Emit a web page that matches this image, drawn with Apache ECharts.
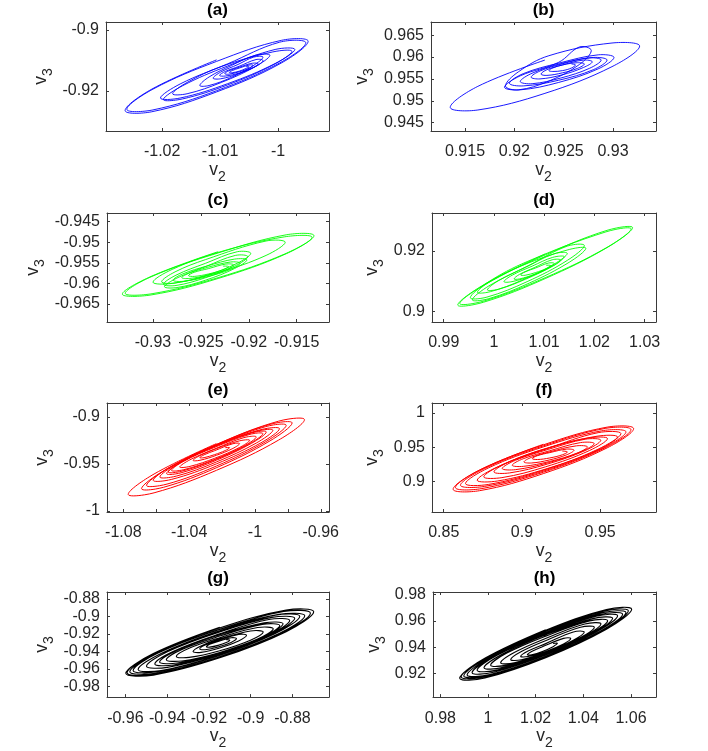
<!DOCTYPE html>
<html>
<head>
<meta charset="utf-8">
<script src="https://cdn.jsdelivr.net/npm/echarts@6/dist/echarts.min.js"></script>
<style>
html,body{margin:0;padding:0;background:#ffffff;}
#chart{width:708px;height:751px;}
</style>
</head>
<body>
<div id="chart"></div>
<script>
// ---------- DATA ----------
// Each trajectory is listed loop by loop, 8 points per loop.
const panelTitles = ['(a)', '(b)', '(c)', '(d)', '(e)', '(f)', '(g)', '(h)'];
const xName = 'v2';
const yName = 'v3';

// (a)
const aV2 = [
 -0.9948,-0.9994,-1.0106,-1.0218,-1.0264,-1.0218,-1.0106,-0.9994,
 -0.9952,-0.9997,-1.0106,-1.0216,-1.0261,-1.0216,-1.0106,-0.9997,
 -0.9971,-1.0005,-1.0087,-1.0169,-1.0203,-1.0169,-1.0087,-1.0005,
 -0.9976,-1.0009,-1.0087,-1.0165,-1.0198,-1.0165,-1.0087,-1.0009,
 -1.0014,-1.0039,-1.0098,-1.0157,-1.0182,-1.0157,-1.0098,-1.0039,
 -1.0026,-1.0042,-1.0080,-1.0119,-1.0135,-1.0119,-1.0080,-1.0042,
 -1.0026,-1.0038,-1.0069,-1.0099,-1.0112,-1.0099,-1.0069,-1.0038,
 -1.0034,-1.0044,-1.0067,-1.0091,-1.0101,-1.0091,-1.0067,-1.0044,
 -1.0043,-1.0050,-1.0067,-1.0085,-1.0092,-1.0085,-1.0067,-1.0050,
 -1.0050,-1.0055,-1.0067,-1.0079,-1.0084,-1.0079,-1.0067,-1.0055
];
const aV3 = [
 -0.9037,-0.9034,-0.9098,-0.9194,-0.9264,-0.9268,-0.9203,-0.9108,
 -0.9042,-0.9040,-0.9103,-0.9194,-0.9260,-0.9262,-0.9199,-0.9108,
 -0.9064,-0.9064,-0.9111,-0.9177,-0.9223,-0.9223,-0.9176,-0.9110,
 -0.9070,-0.9072,-0.9118,-0.9183,-0.9228,-0.9226,-0.9180,-0.9115,
 -0.9083,-0.9083,-0.9120,-0.9172,-0.9209,-0.9209,-0.9172,-0.9120,
 -0.9089,-0.9089,-0.9116,-0.9154,-0.9182,-0.9182,-0.9155,-0.9116,
 -0.9100,-0.9097,-0.9113,-0.9138,-0.9158,-0.9160,-0.9144,-0.9119,
 -0.9111,-0.9109,-0.9119,-0.9136,-0.9149,-0.9151,-0.9141,-0.9124,
 -0.9116,-0.9115,-0.9122,-0.9134,-0.9143,-0.9145,-0.9137,-0.9126,
 -0.9121,-0.9120,-0.9125,-0.9133,-0.9139,-0.9140,-0.9135,-0.9126
];
const aXTicks = [-1.02, -1.01, -1];
const aXLabels = [-1.02, -1.01, -1];
const aYTicks = [-0.92, -0.9];

// (b)
const bV2 = [
 0.9327,0.9299,0.9231,0.9163,0.9135,0.9163,0.9231,0.9299,
 0.9278,0.9266,0.9235,0.9204,0.9191,0.9204,0.9235,0.9266,
 0.9301,0.9285,0.9245,0.9206,0.9190,0.9206,0.9245,0.9285,
 0.9294,0.9280,0.9245,0.9209,0.9195,0.9209,0.9245,0.9280,
 0.9288,0.9276,0.9247,0.9218,0.9206,0.9218,0.9247,0.9276,
 0.9279,0.9270,0.9248,0.9226,0.9217,0.9226,0.9248,0.9270,
 0.9271,0.9264,0.9249,0.9233,0.9227,0.9233,0.9249,0.9264,
 0.9262,0.9258,0.9249,0.9239,0.9235,0.9239,0.9249,0.9258
];
const bV3 = [
 0.9625,0.9632,0.9593,0.9533,0.9485,0.9479,0.9517,0.9578,
 0.9615,0.9623,0.9603,0.9566,0.9534,0.9525,0.9545,0.9583,
 0.9599,0.9605,0.9588,0.9557,0.9531,0.9525,0.9542,0.9573,
 0.9593,0.9599,0.9586,0.9562,0.9540,0.9534,0.9547,0.9571,
 0.9593,0.9598,0.9585,0.9563,0.9544,0.9539,0.9552,0.9574,
 0.9589,0.9593,0.9584,0.9568,0.9554,0.9550,0.9559,0.9576,
 0.9584,0.9587,0.9582,0.9571,0.9561,0.9558,0.9564,0.9574,
 0.9582,0.9584,0.9582,0.9575,0.9569,0.9567,0.9569,0.9575
];
const bXTicks = [0.915, 0.92, 0.925, 0.93];
const bXLabels = [0.915, 0.92, 0.925, 0.93];
const bYTicks = [0.945, 0.95, 0.955, 0.96, 0.965];

// (c)
const cV2 = [
 -0.9132,-0.9161,-0.9232,-0.9302,-0.9332,-0.9302,-0.9232,-0.9161,
 -0.9134,-0.9163,-0.9232,-0.9301,-0.9329,-0.9301,-0.9232,-0.9163,
 -0.9162,-0.9182,-0.9231,-0.9280,-0.9300,-0.9280,-0.9231,-0.9182,
 -0.9198,-0.9212,-0.9245,-0.9277,-0.9291,-0.9277,-0.9245,-0.9212,
 -0.9201,-0.9214,-0.9245,-0.9276,-0.9289,-0.9276,-0.9245,-0.9214,
 -0.9202,-0.9215,-0.9245,-0.9275,-0.9288,-0.9275,-0.9245,-0.9215,
 -0.9209,-0.9219,-0.9244,-0.9269,-0.9279,-0.9269,-0.9244,-0.9219,
 -0.9216,-0.9224,-0.9243,-0.9262,-0.9270,-0.9262,-0.9243,-0.9224,
 -0.9221,-0.9227,-0.9242,-0.9257,-0.9263,-0.9257,-0.9242,-0.9227
];
const cV3 = [
 -0.9484,-0.9482,-0.9523,-0.9583,-0.9626,-0.9628,-0.9588,-0.9528,
 -0.9488,-0.9487,-0.9526,-0.9583,-0.9624,-0.9625,-0.9586,-0.9529,
 -0.9500,-0.9497,-0.9524,-0.9566,-0.9597,-0.9600,-0.9573,-0.9532,
 -0.9527,-0.9523,-0.9542,-0.9572,-0.9596,-0.9599,-0.9581,-0.9551,
 -0.9535,-0.9532,-0.9551,-0.9580,-0.9602,-0.9605,-0.9586,-0.9557,
 -0.9543,-0.9541,-0.9559,-0.9587,-0.9608,-0.9610,-0.9592,-0.9564,
 -0.9551,-0.9548,-0.9558,-0.9577,-0.9592,-0.9595,-0.9584,-0.9566,
 -0.9555,-0.9553,-0.9561,-0.9575,-0.9586,-0.9588,-0.9580,-0.9567,
 -0.9559,-0.9558,-0.9564,-0.9573,-0.9581,-0.9583,-0.9577,-0.9567
];
const cXTicks = [-0.93, -0.925, -0.92, -0.915];
const cXLabels = [-0.93, -0.925, -0.92, -0.915];
const cYTicks = [-0.965, -0.96, -0.955, -0.95, -0.945];

// (d)
const dV2 = [
 1.0276,1.0225,1.0102,0.9979,0.9928,0.9979,1.0102,1.0225,
 1.0273,1.0223,1.0102,0.9982,0.9932,0.9982,1.0102,1.0223,
 1.0180,1.0146,1.0066,0.9986,0.9953,0.9986,1.0066,1.0146,
 1.0183,1.0150,1.0070,0.9990,0.9957,0.9990,1.0070,1.0150,
 1.0146,1.0120,1.0056,0.9993,0.9967,0.9993,1.0056,1.0120,
 1.0140,1.0117,1.0063,1.0009,0.9987,1.0009,1.0063,1.0117,
 1.0133,1.0116,1.0076,1.0036,1.0020,1.0036,1.0076,1.0116,
 1.0120,1.0108,1.0080,1.0051,1.0040,1.0051,1.0080,1.0108,
 1.0113,1.0104,1.0083,1.0062,1.0053,1.0062,1.0083,1.0104
];
const dV3 = [
 0.9277,0.9268,0.9190,0.9088,0.9022,0.9031,0.9109,0.9211,
 0.9273,0.9263,0.9187,0.9089,0.9027,0.9036,0.9112,0.9210,
 0.9218,0.9216,0.9165,0.9095,0.9046,0.9048,0.9099,0.9169,
 0.9209,0.9205,0.9153,0.9085,0.9039,0.9043,0.9094,0.9163,
 0.9192,0.9191,0.9152,0.9100,0.9064,0.9066,0.9104,0.9157,
 0.9181,0.9179,0.9146,0.9102,0.9072,0.9074,0.9107,0.9151,
 0.9170,0.9171,0.9150,0.9120,0.9099,0.9099,0.9119,0.9149,
 0.9159,0.9160,0.9145,0.9123,0.9108,0.9108,0.9123,0.9144,
 0.9152,0.9153,0.9144,0.9131,0.9121,0.9120,0.9129,0.9142
];
const dXTicks = [0.99, 1, 1.01, 1.02, 1.03];
const dXLabels = [0.99, 1, 1.01, 1.02, 1.03];
const dYTicks = [0.9, 0.92];

// (e)
const eV2 = [
 -0.9699,-0.9856,-1.0234,-1.0613,-1.0770,-1.0613,-1.0234,-0.9856,
 -0.9774,-0.9908,-1.0231,-1.0555,-1.0689,-1.0555,-1.0231,-0.9908,
 -0.9810,-0.9934,-1.0234,-1.0534,-1.0659,-1.0534,-1.0234,-0.9934,
 -0.9851,-0.9963,-1.0234,-1.0506,-1.0618,-1.0506,-1.0234,-0.9963,
 -0.9891,-0.9992,-1.0234,-1.0477,-1.0578,-1.0477,-1.0234,-0.9992,
 -0.9931,-1.0020,-1.0234,-1.0449,-1.0537,-1.0449,-1.0234,-1.0020,
 -0.9952,-1.0036,-1.0239,-1.0443,-1.0527,-1.0443,-1.0239,-1.0036,
 -0.9992,-1.0067,-1.0250,-1.0432,-1.0507,-1.0432,-1.0250,-1.0067,
 -1.0032,-1.0095,-1.0245,-1.0395,-1.0457,-1.0395,-1.0245,-1.0095,
 -1.0093,-1.0134,-1.0234,-1.0334,-1.0376,-1.0334,-1.0234,-1.0134,
 -1.0154,-1.0180,-1.0245,-1.0309,-1.0335,-1.0309,-1.0245,-1.0180
];
const eV3 = [
 -0.9028,-0.9044,-0.9283,-0.9606,-0.9822,-0.9806,-0.9567,-0.9245,
 -0.9063,-0.9078,-0.9289,-0.9572,-0.9762,-0.9747,-0.9537,-0.9253,
 -0.9088,-0.9102,-0.9294,-0.9553,-0.9727,-0.9713,-0.9521,-0.9262,
 -0.9124,-0.9134,-0.9299,-0.9523,-0.9673,-0.9663,-0.9498,-0.9274,
 -0.9141,-0.9152,-0.9301,-0.9503,-0.9638,-0.9628,-0.9478,-0.9277,
 -0.9159,-0.9169,-0.9303,-0.9482,-0.9602,-0.9593,-0.9459,-0.9279,
 -0.9177,-0.9187,-0.9310,-0.9475,-0.9585,-0.9575,-0.9452,-0.9287,
 -0.9212,-0.9219,-0.9326,-0.9470,-0.9567,-0.9560,-0.9454,-0.9309,
 -0.9248,-0.9254,-0.9340,-0.9455,-0.9532,-0.9525,-0.9439,-0.9325,
 -0.9283,-0.9284,-0.9336,-0.9410,-0.9461,-0.9460,-0.9407,-0.9334,
 -0.9326,-0.9326,-0.9358,-0.9402,-0.9432,-0.9432,-0.9400,-0.9356
];
const eXTicks = [-1.08, -1.06, -1.04, -1.02, -1, -0.98, -0.96];
const eXLabels = [-1.08, -1.04, -1, -0.96];
const eYTicks = [-1, -0.95, -0.9];

// (f)
const fV2 = [
 0.9714,0.9545,0.9137,0.8729,0.8560,0.8729,0.9137,0.9545,
 0.9697,0.9532,0.9136,0.8739,0.8575,0.8739,0.9136,0.9532,
 0.9665,0.9510,0.9136,0.8762,0.8607,0.8762,0.9136,0.9510,
 0.9633,0.9487,0.9136,0.8785,0.8639,0.8785,0.9136,0.9487,
 0.9611,0.9480,0.9162,0.8845,0.8714,0.8845,0.9162,0.9480,
 0.9547,0.9431,0.9152,0.8872,0.8756,0.8872,0.9152,0.9431,
 0.9504,0.9404,0.9162,0.8921,0.8821,0.8921,0.9162,0.9404,
 0.9462,0.9375,0.9168,0.8960,0.8874,0.8960,0.9168,0.9375,
 0.9419,0.9348,0.9178,0.9008,0.8938,0.9008,0.9178,0.9348,
 0.9333,0.9286,0.9173,0.9060,0.9013,0.9060,0.9173,0.9286,
 0.9291,0.9258,0.9178,0.9099,0.9066,0.9099,0.9178,0.9258
];
const fV3 = [
 0.9771,0.9793,0.9542,0.9166,0.8884,0.8863,0.9113,0.9490,
 0.9757,0.9774,0.9533,0.9174,0.8909,0.8892,0.9133,0.9491,
 0.9723,0.9739,0.9518,0.9188,0.8943,0.8926,0.9148,0.9478,
 0.9698,0.9712,0.9503,0.9195,0.8967,0.8954,0.9162,0.9471,
 0.9649,0.9660,0.9479,0.9212,0.9016,0.9005,0.9187,0.9453,
 0.9625,0.9636,0.9477,0.9240,0.9065,0.9054,0.9213,0.9450,
 0.9601,0.9616,0.9486,0.9288,0.9138,0.9123,0.9252,0.9450,
 0.9552,0.9567,0.9467,0.9309,0.9187,0.9171,0.9272,0.9430,
 0.9503,0.9519,0.9447,0.9330,0.9235,0.9219,0.9291,0.9409,
 0.9455,0.9471,0.9428,0.9350,0.9284,0.9268,0.9311,0.9388,
 0.9430,0.9443,0.9420,0.9375,0.9333,0.9319,0.9342,0.9388
];
const fXTicks = [0.85, 0.9, 0.95];
const fXLabels = [0.85, 0.9, 0.95];
const fYTicks = [0.9, 0.95, 1];

// (g)
const gV2 = [
 -0.8698,-0.8830,-0.9148,-0.9466,-0.9598,-0.9466,-0.9148,-0.8830,
 -0.8714,-0.8842,-0.9153,-0.9463,-0.9592,-0.9463,-0.9153,-0.8842,
 -0.8741,-0.8864,-0.9160,-0.9456,-0.9579,-0.9456,-0.9160,-0.8864,
 -0.8765,-0.8882,-0.9164,-0.9446,-0.9563,-0.9446,-0.9164,-0.8882,
 -0.8789,-0.8899,-0.9164,-0.9429,-0.9539,-0.9429,-0.9164,-0.8899,
 -0.8813,-0.8913,-0.9156,-0.9399,-0.9499,-0.9399,-0.9156,-0.8913,
 -0.8845,-0.8935,-0.9152,-0.9369,-0.9459,-0.9369,-0.9152,-0.8935,
 -0.8861,-0.8945,-0.9148,-0.9351,-0.9436,-0.9351,-0.9148,-0.8945,
 -0.8892,-0.8967,-0.9148,-0.9329,-0.9404,-0.9329,-0.9148,-0.8967,
 -0.8940,-0.9001,-0.9148,-0.9295,-0.9356,-0.9295,-0.9148,-0.9001,
 -0.9020,-0.9058,-0.9148,-0.9238,-0.9276,-0.9238,-0.9148,-0.9058,
 -0.9068,-0.9094,-0.9156,-0.9218,-0.9244,-0.9218,-0.9156,-0.9094,
 -0.9100,-0.9117,-0.9156,-0.9196,-0.9212,-0.9196,-0.9156,-0.9117
];
const gV3 = [
 -0.8948,-0.8928,-0.9124,-0.9423,-0.9648,-0.9669,-0.9472,-0.9174,
 -0.8963,-0.8945,-0.9135,-0.9424,-0.9641,-0.9660,-0.9469,-0.9180,
 -0.8993,-0.8976,-0.9156,-0.9427,-0.9630,-0.9647,-0.9467,-0.9196,
 -0.9000,-0.8986,-0.9160,-0.9420,-0.9615,-0.9630,-0.9456,-0.9195,
 -0.9022,-0.9011,-0.9176,-0.9422,-0.9604,-0.9616,-0.9450,-0.9204,
 -0.9048,-0.9035,-0.9182,-0.9402,-0.9567,-0.9580,-0.9434,-0.9213,
 -0.9085,-0.9074,-0.9202,-0.9396,-0.9541,-0.9553,-0.9424,-0.9231,
 -0.9104,-0.9091,-0.9208,-0.9385,-0.9519,-0.9531,-0.9415,-0.9238,
 -0.9141,-0.9127,-0.9224,-0.9376,-0.9493,-0.9507,-0.9410,-0.9258,
 -0.9178,-0.9166,-0.9243,-0.9363,-0.9456,-0.9467,-0.9391,-0.9271,
 -0.9215,-0.9205,-0.9256,-0.9336,-0.9400,-0.9410,-0.9360,-0.9279,
 -0.9252,-0.9243,-0.9274,-0.9327,-0.9371,-0.9379,-0.9348,-0.9296,
 -0.9271,-0.9266,-0.9285,-0.9318,-0.9345,-0.9350,-0.9330,-0.9297
];
const gXTicks = [-0.96, -0.94, -0.92, -0.9, -0.88];
const gXLabels = [-0.96, -0.94, -0.92, -0.9, -0.88];
const gYTicks = [-0.98, -0.96, -0.94, -0.92, -0.9, -0.88];

// (h)
const hV2 = [
 1.0603,1.0497,1.0242,0.9987,0.9881,0.9987,1.0242,1.0497,
 1.0589,1.0486,1.0238,0.9990,0.9887,0.9990,1.0238,1.0486,
 1.0579,1.0479,1.0239,0.9998,0.9898,0.9998,1.0239,1.0479,
 1.0565,1.0469,1.0239,1.0008,0.9912,1.0008,1.0239,1.0469,
 1.0544,1.0454,1.0239,1.0023,0.9933,1.0023,1.0239,1.0454,
 1.0523,1.0440,1.0239,1.0038,0.9954,1.0038,1.0239,1.0440,
 1.0502,1.0426,1.0242,1.0059,0.9983,1.0059,1.0242,1.0426,
 1.0474,1.0406,1.0242,1.0079,1.0011,1.0079,1.0242,1.0406,
 1.0446,1.0388,1.0249,1.0110,1.0053,1.0110,1.0249,1.0388,
 1.0404,1.0358,1.0249,1.0140,1.0095,1.0140,1.0249,1.0358,
 1.0347,1.0317,1.0242,1.0168,1.0137,1.0168,1.0242,1.0317,
 1.0291,1.0273,1.0228,1.0183,1.0165,1.0183,1.0228,1.0273
];
const hV3 = [
 0.9689,0.9687,0.9533,0.9317,0.9165,0.9167,0.9321,0.9537,
 0.9677,0.9675,0.9527,0.9320,0.9175,0.9177,0.9325,0.9532,
 0.9664,0.9662,0.9520,0.9321,0.9183,0.9185,0.9327,0.9526,
 0.9652,0.9649,0.9512,0.9322,0.9190,0.9193,0.9330,0.9520,
 0.9640,0.9636,0.9508,0.9330,0.9207,0.9211,0.9340,0.9517,
 0.9620,0.9618,0.9501,0.9339,0.9225,0.9227,0.9343,0.9506,
 0.9602,0.9601,0.9495,0.9347,0.9244,0.9246,0.9352,0.9499,
 0.9578,0.9577,0.9485,0.9356,0.9264,0.9265,0.9357,0.9487,
 0.9553,0.9552,0.9472,0.9360,0.9282,0.9283,0.9363,0.9475,
 0.9516,0.9517,0.9456,0.9368,0.9306,0.9306,0.9367,0.9454,
 0.9467,0.9468,0.9428,0.9372,0.9331,0.9330,0.9369,0.9426,
 0.9430,0.9429,0.9404,0.9368,0.9343,0.9344,0.9369,0.9405
];
const hXTicks = [0.98, 1, 1.02, 1.04, 1.06];
const hXLabels = [0.98, 1, 1.02, 1.04, 1.06];
const hYTicks = [0.92, 0.94, 0.96, 0.98];

// ---------- LAYOUT & STYLE ----------
const layout = [
  {left:106, top:22,  width:223, height:109, xMin:-1.0297, xMax:-0.9912, yMin:-0.9331, yMax:-0.8974, xGap:22, yGap:51, tGap:3},
  {left:431, top:22,  width:225, height:109, xMin:0.91155, xMax:0.93436, yMin:0.9431,  yMax:0.968,   xGap:22, yGap:55, tGap:3},
  {left:107, top:213, width:222, height:109, xMin:-0.9348, xMax:-0.91163, yMin:-0.96937, yMax:-0.9429, xGap:17, yGap:60, tGap:4},
  {left:432, top:213, width:224, height:109, xMin:0.98767, xMax:1.03226, yMin:0.8966,  yMax:0.93252, xGap:17, yGap:46, tGap:4},
  {left:107, top:403, width:222, height:109, xMin:-1.0899, xMax:-0.955,  yMin:-1.001,  yMax:-0.8851, xGap:17, yGap:51, tGap:4},
  {left:432, top:403, width:224, height:109, xMin:0.8425,  xMax:0.9857,  yMin:0.8551,  yMax:1.0146,  xGap:18, yGap:46, tGap:4},
  {left:107, top:592, width:222, height:108, xMin:-0.9688, xMax:-0.8625, yMin:-0.9919, yMax:-0.8722, xGap:21, yGap:51, tGap:5},
  {left:433, top:592, width:223, height:108, xMin:0.9769,  xMax:1.0705,  yMin:0.9022,  yMax:0.982,   xGap:22, yGap:45, tGap:5}
];
const lineColors = ['#0000ff','#0000ff','#00ff00','#00ff00','#ff0000','#ff0000','#000000','#000000'];
const lineWidths = [0.9, 0.9, 0.9, 0.9, 1, 1, 1.1, 1.1];

const panelData = [
  [aV2,aV3,aXTicks,aXLabels,aYTicks],
  [bV2,bV3,bXTicks,bXLabels,bYTicks],
  [cV2,cV3,cXTicks,cXLabels,cYTicks],
  [dV2,dV3,dXTicks,dXLabels,dYTicks],
  [eV2,eV3,eXTicks,eXLabels,eYTicks],
  [fV2,fV3,fXTicks,fXLabels,fYTicks],
  [gV2,gV3,gXTicks,gXLabels,gYTicks],
  [hV2,hV3,hXTicks,hXLabels,hYTicks]
];

const FONT = 'Liberation Sans, Arial, Helvetica, sans-serif';
const BOX = '#3a3a3a';
const TXT = '#262626';
const fmt = v => String(+Number(v).toFixed(4));
const nameRich = {
  v: {fontSize: 17.5, fontFamily: FONT, color: TXT},
  s: {fontSize: 14, fontFamily: FONT, color: TXT, padding: [14, 0, 0, 0]}
};
const richName = s => '{v|' + s.charAt(0) + '}{s|' + s.slice(1) + '}';

// each loop is traversed starting from its upper-middle point so the path
// start never sits on a sharp tip
const LOOP_ORDER = [2, 3, 4, 5, 6, 7, 0, 1];
function makeRenderItem(color, width) {
  return function (params, api) {
    if (params.dataIndexInside !== 0) return null;
    const n = params.dataInsideLength;
    const pts = [];
    for (let j = 0; j * 8 < n; j++) {
      for (const r of LOOP_ORDER) {
        const k = j * 8 + r;
        if (k < n) pts.push(api.coord([api.value(0, k), api.value(1, k)]));
      }
    }
    return {
      type: 'polyline',
      shape: {points: pts, smooth: 0.375},
      style: {stroke: color, fill: 'none', lineWidth: width},
      silent: true
    };
  };
}

const grid = [], xAxis = [], yAxis = [], series = [];
layout.forEach((L, i) => {
  const [v2, v3, xt, xl, yt] = panelData[i];
  grid.push({left: L.left, top: L.top, width: L.width, height: L.height, containLabel: false});
  const common = {
    type: 'value', gridIndex: i, splitLine: {show: false},
    axisLine: {show: true, onZero: false, lineStyle: {color: BOX, width: 1}}
  };
  xAxis.push(Object.assign({}, common, {
    position: 'bottom', min: L.xMin, max: L.xMax,
    axisTick: {show: true, inside: true, length: 3, customValues: xt, lineStyle: {color: BOX}},
    axisLabel: {show: true, customValues: xl, margin: 13, color: TXT, fontSize: 16, fontFamily: FONT, formatter: fmt},
    name: richName(xName), nameLocation: 'middle', nameGap: L.xGap,
    nameTextStyle: {rich: nameRich}
  }));
  xAxis.push(Object.assign({}, common, {
    position: 'top', min: L.xMin, max: L.xMax,
    axisTick: {show: true, inside: true, length: 3, customValues: xt, lineStyle: {color: BOX}},
    axisLabel: {show: false},
    name: panelTitles[i], nameLocation: 'middle', nameGap: L.tGap,
    nameTextStyle: {fontSize: 17, fontWeight: 'bold', fontFamily: FONT, color: '#000'}
  }));
  yAxis.push(Object.assign({}, common, {
    position: 'left', min: L.yMin, max: L.yMax,
    axisTick: {show: true, inside: true, length: 3, customValues: yt, lineStyle: {color: BOX}},
    axisLabel: {show: true, customValues: yt, margin: 7, color: TXT, fontSize: 16, fontFamily: FONT, formatter: fmt},
    name: richName(yName), nameLocation: 'middle', nameGap: L.yGap, nameRotate: 90,
    nameTextStyle: {rich: nameRich}
  }));
  yAxis.push(Object.assign({}, common, {
    position: 'right', min: L.yMin, max: L.yMax,
    axisTick: {show: true, inside: true, length: 3, customValues: yt, lineStyle: {color: BOX}},
    axisLabel: {show: false}
  }));
  series.push({
    type: 'custom', coordinateSystem: 'cartesian2d',
    xAxisIndex: 2 * i, yAxisIndex: 2 * i,
    data: v2.map((x, k) => [x, v3[k]]),
    encode: {x: 0, y: 1},
    renderItem: makeRenderItem(lineColors[i], lineWidths[i]),
    progressive: 0, silent: true, clip: true
  });
});

const chart = echarts.init(document.getElementById('chart'), null, {renderer: 'canvas', width: 708, height: 751});
chart.setOption({
  backgroundColor: '#ffffff',
  animation: false,
  grid, xAxis, yAxis, series
});
</script>
</body>
</html>
